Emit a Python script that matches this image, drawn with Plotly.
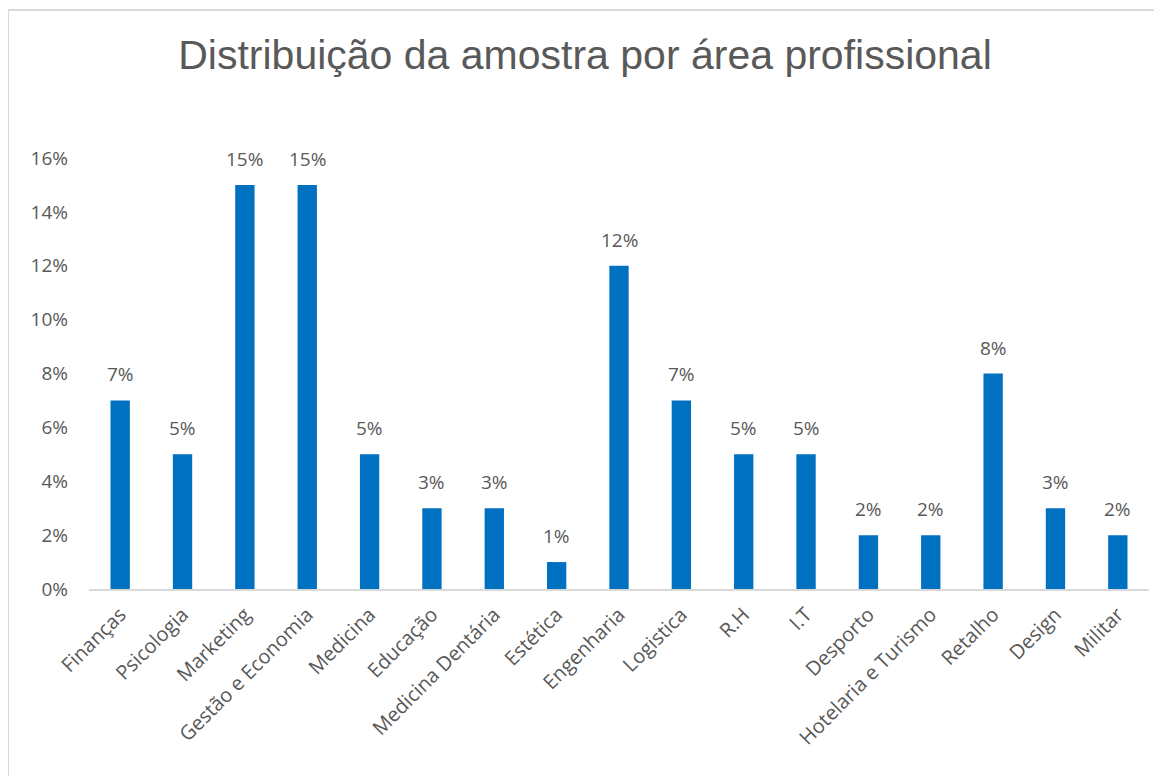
import plotly.graph_objects as go

categories = ["Finanças", "Psicologia", "Marketing", "Gestão e Economia", "Medicina",
              "Educação", "Medicina Dentária", "Estética", "Engenharia", "Logistica",
              "R.H", "I.T", "Desporto", "Hotelaria e Turismo", "Retalho", "Design", "Militar"]
values = [0.07, 0.05, 0.15, 0.15, 0.05, 0.03, 0.03, 0.01, 0.12, 0.07,
          0.05, 0.05, 0.02, 0.02, 0.08, 0.03, 0.02]
tick_vals = [0, 0.02, 0.04, 0.06, 0.08, 0.10, 0.12, 0.14, 0.16]
tick_text = ["0%", "2%", "4%", "6%", "8%", "10%", "12%", "14%", "16%"]
title_text = "Distribuição da amostra por área profissional"

# page has an 8px body margin; figure coords = page coords - 8
W, H = 1154, 768
L, R, T, B = 81, 13, 150, 187
pw, ph = W - L - R, H - T - B

def px_x(p):
    return (p - L) / pw

def px_y(p):
    return (H - B - p) / ph

fig = go.Figure(go.Bar(
    x=categories, y=values,
    marker=dict(color="#0070C0", line=dict(width=0)),
))

for c, v in zip(categories, values):
    fig.add_annotation(x=c, y=v, text=f"{round(v*100)}%", showarrow=False,
                       xanchor="center", yanchor="bottom", yshift=11,
                       font=dict(family="Open Sans", size=19, color="#595959"))

fig.update_layout(
    width=W, height=H,
    margin=dict(l=L, r=R, t=T, b=B),
    paper_bgcolor="white", plot_bgcolor="white",
    bargap=0.69,
    showlegend=False,
    title=dict(text=title_text, x=0.5, xanchor="center", y=1 - 47 / H, yanchor="middle",
               font=dict(family="Liberation Sans", size=41, color="#595959")),
    xaxis=dict(tickangle=-45, showline=True, linecolor="#d9d9d9", linewidth=2,
               ticks="", showgrid=False, ticklabelstandoff=4,
               tickfont=dict(family="Open Sans", size=20, color="#595959")),
    yaxis=dict(range=[0, 0.16], tickvals=tick_vals, ticktext=tick_text, showgrid=False,
               zeroline=False, showline=False, ticks="", ticklabelstandoff=20,
               tickfont=dict(family="Open Sans", size=19, color="#595959")),
    shapes=[dict(type="rect", xref="paper", yref="paper",
                 x0=px_x(0), x1=px_x(1180), y0=px_y(800), y1=px_y(2),
                 line=dict(color="#d9d9d9", width=2), layer="below")],
)

fig.write_html("out.html")
